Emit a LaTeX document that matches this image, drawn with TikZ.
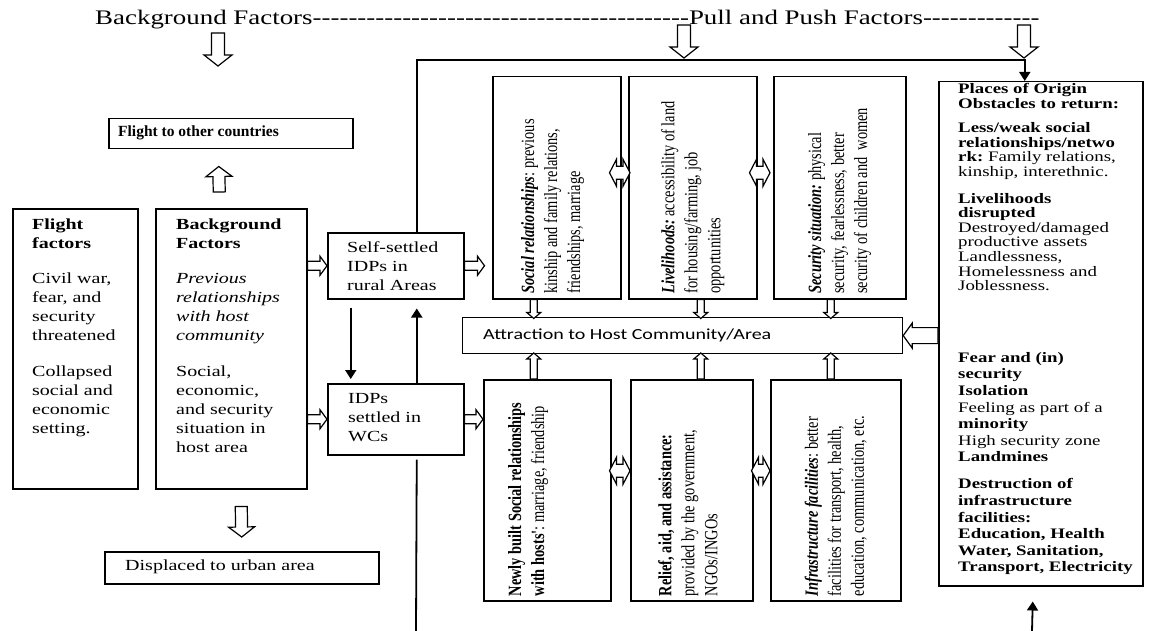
\documentclass[tikz,border=0pt]{standalone}
\usepackage{fontspec}
\setmainfont{Liberation Serif}
\newfontfamily\wideserif{Liberation Serif}[FakeStretch=1.3]
\newfontfamily\narrowserif{Liberation Serif}[FakeStretch=0.77]
\newfontfamily\widesans{Carlito}[FakeStretch=1.3]
\usetikzlibrary{arrows.meta,calc,positioning}
\newcommand{\dashrun}[1]{\foreach \k in {1,...,#1}{-{}}}
\frenchspacing

\begin{document}
\begin{tikzpicture}[
        x=1pt, y=-1pt,
        box/.style={draw, line width=1.5pt, inner sep=0pt, anchor=north west},
        txt/.style={anchor=north west, inner sep=0pt, align=left, font=\wideserif\fontsize{15.4}{19}\selectfont},
        vtxt/.style={rotate=90, text width=212pt, align=left, inner sep=0pt, font=\narrowserif\fontsize{18.7}{23}\selectfont,
            execute at begin node={\spaceskip=3.6pt plus 1pt minus 0.5pt\xspaceskip=3.6pt plus 1pt\relax}},
        link/.style={line width=1.8pt, -{Triangle[length=9pt,width=11pt]}},
        openarr/.style={draw, fill=white, line width=1.2pt, line join=miter},
        fat/.style args={#1/#2/#3}{to path={
            ($(\tikztostart)!#1!90:(\tikztotarget)$)
            -- ($($(\tikztotarget)!#3!(\tikztostart)$)!#1!90:(\tikztotarget)$)
            -- ($($(\tikztotarget)!#3!(\tikztostart)$)!#2!90:(\tikztotarget)$)
            -- (\tikztotarget)
            -- ($($(\tikztotarget)!#3!(\tikztostart)$)!#2!-90:(\tikztotarget)$)
            -- ($($(\tikztotarget)!#3!(\tikztostart)$)!#1!-90:(\tikztotarget)$)
            -- ($(\tikztostart)!#1!-90:(\tikztotarget)$) -- cycle}},
        dfat/.style args={#1/#2/#3}{to path={
            -- ($($(\tikztostart)!#3!(\tikztotarget)$)!#2!90:(\tikztotarget)$)
            -- ($($(\tikztostart)!#3!(\tikztotarget)$)!#1!90:(\tikztotarget)$)
            -- ($($(\tikztotarget)!#3!(\tikztostart)$)!#1!90:(\tikztotarget)$)
            -- ($($(\tikztotarget)!#3!(\tikztostart)$)!#2!90:(\tikztotarget)$)
            -- (\tikztotarget)
            -- ($($(\tikztotarget)!#3!(\tikztostart)$)!#2!-90:(\tikztotarget)$)
            -- ($($(\tikztotarget)!#3!(\tikztostart)$)!#1!-90:(\tikztotarget)$)
            -- ($($(\tikztostart)!#3!(\tikztotarget)$)!#1!-90:(\tikztotarget)$)
            -- ($($(\tikztostart)!#3!(\tikztotarget)$)!#2!-90:(\tikztotarget)$)
            -- cycle}}
    ]
        \useasboundingbox (0,0) rectangle (1150,631);

        % Title row
        \node[anchor=base west, inner sep=0pt, font=\wideserif\fontsize{20.7}{24}\selectfont] (title) at (95,25)
            {Background Factors\dashrun{42}Pull and Push Factors\dashrun{13}};
        \coordinate (bgtop) at (218,33);
        \coordinate (bgbot) at (218,66);
        \coordinate (pptop) at (684,25);
        \coordinate (ppbot) at (684,58);
        \coordinate (potop) at (1024,25);
        \coordinate (pobot) at (1024,58);

        % Left column
        \node[box, minimum width=244pt, minimum height=30pt] (tocountries) at (108,118) {};
        \node[txt, anchor=west, font=\rmfamily\fontsize{15.5}{18}\selectfont\bfseries] at (118,133) {Flight to other countries};

        \node[box, minimum width=125pt, minimum height=280pt] (flight) at (12,208) {};
        \node[txt] at (32,219) {
            \textbf{Flight}\\
            \textbf{factors}\\[16pt]
            Civil war,\\
            fear, and\\
            security\\
            threatened\\[17pt]
            Collapsed\\
            social and\\
            economic\\
            setting.
        };

        \node[box, minimum width=151pt, minimum height=280pt] (bgfac) at (155,208) {};
        \node[txt] at (176,219) {
            \textbf{Background}\\
            \textbf{Factors}\\[16pt]
            \textit{Previous}\\
            \textit{relationships}\\
            \textit{with host}\\
            \textit{community}\\[17pt]
            Social,\\
            economic,\\
            and security\\
            situation in\\
            host area
        };

        \node[box, minimum width=274pt, minimum height=32pt] (tourban) at (104,551) {};
        \node[txt, anchor=west] at (125,567) {Displaced to urban area};

        % IDP groups
        \node[box, minimum width=136pt, minimum height=66pt] (selfset) at (327,232) {};
        \node[txt] at (347,241) {Self-settled\\IDPs in\\rural Areas};

        \node[box, minimum width=136pt, minimum height=71pt] (wcs) at (327,383) {};
        \node[txt] at (348,393) {IDPs\\settled in\\WCs};

        % Pull factors, upper row
        \node[box, minimum width=128pt, minimum height=222pt] (social) at (492,76) {};
        \node[vtxt] at ([xshift=-4pt]social.center) {\textbf{\textit{Social relationships}}: previous\\kinship and family relations,\\friendships, marriage};

        \node[box, minimum width=128pt, minimum height=222pt] (liveli) at (628,76) {};
        \node[vtxt] at (liveli) {\textbf{\textit{Livelihoods:}} accessibility of land\\for housing/farming, job\\opportunities};

        \node[box, minimum width=132pt, minimum height=222pt] (secur) at (773,76) {};
        \node[vtxt] at (secur) {\textbf{\textit{Security situation:}} physical\\security, fearlessness, better\\security of children and\ \ women};

        % Attraction
        \node[box, minimum width=440pt, minimum height=36pt, line width=1.2pt] (attract) at (462,317) {};
        \node[anchor=west, inner sep=0pt, font=\widesans\fontsize{15.4}{18}\selectfont] at (483,335) {Attraction to Host Community/Area};

        % Pull factors, lower row
        \node[box, minimum width=127pt, minimum height=221pt] (newsoc) at (483,379) {};
        \node[vtxt] at ([xshift=-19pt]newsoc.center) {\textbf{Newly built Social relationships}\\\textbf{with hosts'}: marriage, friendship};

        \node[box, minimum width=122pt, minimum height=221pt] (relief) at (630,379) {};
        \node[vtxt] at ([xshift=-4pt]relief.center) {\textbf{Relief, aid, and assistance:}\\provided by the government,\\NGOs/INGOs};

        \node[box, minimum width=130pt, minimum height=221pt] (infra) at (770,379) {};
        \node[vtxt] at (infra) {\textbf{\textit{Infrastructure facilities}}: better\\facilities for transport, health,\\education, communication, etc.};

        % Places of origin
        \node[box, minimum width=204pt, minimum height=504pt] (origin) at (938,81) {};
        \node[txt, font=\wideserif\fontsize{14.5}{14.6}\selectfont] at (958,83) {
            \textbf{Places of Origin}\\
            \textbf{Obstacles to return:}\\[10pt]
            \textbf{Less/weak social}\\
            \textbf{relationships/netwo}\\
            \textbf{rk:} Family relations,\\
            kinship, interethnic.\\[12pt]
            \textbf{Livelihoods}\\
            \textbf{disrupted}\\
            Destroyed/damaged\\
            productive assets\\
            Landlessness,\\
            Homelessness and\\
            Joblessness.
        };
        \node[txt, font=\wideserif\fontsize{14.5}{16.6}\selectfont] at (958,352) {
            \textbf{Fear and (in)}\\
            \textbf{security}\\
            \textbf{Isolation}\\
            Feeling as part of a\\
            \textbf{minority}\\
            High security zone\\
            \textbf{Landmines}\\[10.5pt]
            \textbf{Destruction of}\\
            \textbf{infrastructure}\\
            \textbf{facilities:}\\
            \textbf{Education, Health}\\
            \textbf{Water, Sanitation,}\\
            \textbf{Transport, Electricity}
        };
        \coordinate (wcsdrop) at (416,631);
        \coordinate (returnup) at (1032,631);

        % Open arrows
        \draw[openarr] (bgtop) to[fat=6.5pt/14pt/11pt] (bgbot);
        \draw[openarr] (pptop) to[fat=6.5pt/14pt/11pt] (ppbot);
        \draw[openarr] (potop) to[fat=6.5pt/14pt/11pt] (pobot);
        \draw[openarr] ([shift={(-12,-16)}]bgfac.north) to[fat=6pt/13pt/10pt] ([shift={(-12,17)}]tocountries.south);
        \draw[openarr] ([shift={(10,17)}]bgfac.south) to[fat=6pt/13pt/10pt] ([shift={(0,-14)}]tourban.north);
        \draw[openarr] (bgfac.east |- selfset.west) to[fat=4.5pt/9.5pt/7pt] (selfset.west);
        \draw[openarr] (bgfac.east |- wcs.west) to[fat=4.5pt/9.5pt/7pt] (wcs.west);
        \draw[openarr] (selfset.east) to[fat=4.5pt/9.5pt/7pt] ([xshift=20pt]selfset.east);
        \draw[openarr] (wcs.east) to[fat=4.5pt/9.5pt/7pt] (newsoc.west |- wcs.east);
        \draw[openarr] ([xshift=-23pt]social.south) to[fat=3.5pt/7pt/6pt] ([shift={(-23,19)}]social.south);
        \draw[openarr] ([xshift=8pt]liveli.south) to[fat=3.5pt/7pt/6pt] ([shift={(8,19)}]liveli.south);
        \draw[openarr] ([xshift=-9pt]secur.south) to[fat=3.5pt/7pt/6pt] ([shift={(-9,19)}]secur.south);
        \draw[openarr] ([xshift=-13.5pt]newsoc.north) to[fat=3.5pt/7pt/6pt] ([shift={(-13.5,-26)}]newsoc.north);
        \draw[openarr] ([xshift=9pt]relief.north) to[fat=3.5pt/7pt/6pt] ([shift={(9,-26)}]relief.north);
        \draw[openarr] ([xshift=-5pt]infra.north) to[fat=3.5pt/7pt/6pt] ([shift={(-5,-26)}]infra.north);
        \draw[openarr] (origin.west |- attract.east) to[fat=8pt/12.5pt/9pt] (attract.east);
        \draw[openarr] ([shift={(-12,-15)}]social.east) to[dfat=6.5pt/13.5pt/7pt] ([shift={(2,-15)}]liveli.west);
        \draw[openarr] ([shift={(-8,-15)}]liveli.east) to[dfat=6.5pt/13.5pt/7pt] ([shift={(-3,-15)}]secur.west);
        \draw[openarr] ([shift={(-2,-19.5)}]newsoc.east) to[dfat=6.5pt/13.5pt/7pt] ([shift={(0,-19.5)}]relief.west);
        \draw[openarr] ([shift={(-2,-19.5)}]relief.east) to[dfat=6.5pt/13.5pt/7pt] ([shift={(0,-19.5)}]infra.west);

        % Links
        \draw[link] ([shift={(-45,8)}]selfset.south) -- ([shift={(-45,-4)}]wcs.north);
        \draw[link] ([xshift=21pt]wcs.north) -- ([shift={(21,9)}]selfset.south);
        \draw[link] ([xshift=21pt]selfset.north) |- ([shift={(-16,-21)}]origin.north) -- ([xshift=-16pt]origin.north);
        \draw[link, -] ([shift={(21,4)}]wcs.south) -- (wcsdrop);
        \draw[link] (returnup) -- ([shift={(-8,15)}]origin.south);

    \end{tikzpicture}
\end{document}
